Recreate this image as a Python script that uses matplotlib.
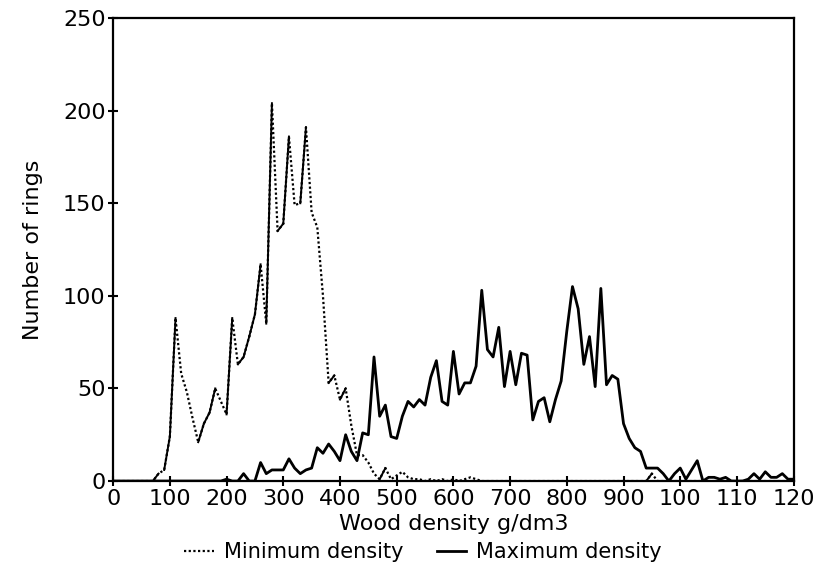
import numpy as np
import matplotlib
matplotlib.use("Agg")
import matplotlib.pyplot as plt

# density classes, g/dm3
density = np.arange(0, 1210, 10)

# number of rings per class, minimum density of each ring
min_rings = [0, 0, 0, 0, 0, 0, 0, 0, 4, 6,
             24, 88, 58, 48, 34, 21, 31, 37, 50, 43,
             36, 88, 63, 67, 78, 90, 117, 85, 204, 135,
             139, 186, 149, 150, 191, 145, 137, 100, 53, 57,
             44, 50, 30, 14, 14, 10, 4, 1, 7, 1,
             3, 5, 2, 1, 1, 0, 1, 0, 1, 0,
             1, 0, 1, 2, 1, 0, 0, 0, 0, 0,
             0, 0, 0, 0, 0, 0, 0, 0, 0, 0,
             0, 0, 0, 0, 0, 0, 0, 0, 0, 0,
             0, 0, 0, 0, 0, 4, 0, 0, 0, 0,
             0, 0, 0, 0, 0, 0, 0, 0, 0, 0,
             0, 0, 0, 0, 0, 0, 0, 0, 0, 0,
             0]

# number of rings per class, maximum density of each ring
max_rings = [0, 0, 0, 0, 0, 0, 0, 0, 0, 0,
             0, 0, 0, 0, 0, 0, 0, 0, 0, 0,
             1, 0, 0, 4, 0, 0, 10, 4, 6, 6,
             6, 12, 7, 4, 6, 7, 18, 15, 20, 16,
             11, 25, 16, 11, 26, 25, 67, 35, 41, 24,
             23, 35, 43, 40, 44, 41, 56, 65, 43, 41,
             70, 47, 53, 53, 62, 103, 71, 67, 83, 51,
             70, 52, 69, 68, 33, 43, 45, 32, 44, 54,
             81, 105, 93, 63, 78, 51, 104, 52, 57, 55,
             31, 23, 18, 16, 7, 7, 7, 4, 0, 4,
             7, 1, 6, 11, 0, 2, 2, 1, 2, 0,
             0, 0, 1, 4, 1, 5, 2, 2, 4, 1,
             1]

xticks = np.arange(0, 1300, 100)
xticklabels = ['0', '100', '200', '300', '400', '500', '600', '700',
               '800', '900', '100', '110', '120']
yticks = [0, 50, 100, 150, 200, 250]

plt.rcParams['font.family'] = ['DejaVu Sans']
plt.rcParams['font.size'] = 16

fig = plt.figure(figsize=(8.14, 5.72), dpi=100)
ax = fig.add_axes([0.139, 0.159, 0.836, 0.8095])

y_min = np.array(min_rings, dtype=float)
ax.plot(density, y_min, color='black', linestyle=(0, (1, 1.1)), linewidth=1.6)
# the old plotter drew the rising parts of the dotted curve almost solid
for i in range(len(density) - 1):
    if y_min[i + 1] > y_min[i] + 2:
        ax.plot(density[i:i + 2], y_min[i:i + 2], color='black', linewidth=1.4)
ax.plot([], [], color='black', linestyle=(0, (1, 1.1)), linewidth=1.6,
        label='Minimum density')
ax.plot(density, max_rings, color='black', linewidth=2.0, label='Maximum density')

ax.set_xlim(0, 1200)
ax.set_ylim(0, 250)
ax.set_xticks(xticks)
ax.set_xticklabels(xticklabels)
ax.set_yticks(yticks)
ax.tick_params(direction='inout', length=7, width=1.5, pad=2, labelsize=16)
for s in ax.spines.values():
    s.set_linewidth(1.6)

ax.set_xlabel('Wood density g/dm3', fontsize=16, labelpad=4)
ax.set_ylabel('Number of rings', fontsize=16, labelpad=14)

fig.legend(loc='lower center', bbox_to_anchor=(0.52, -0.016), ncol=2,
           frameon=False, fontsize=15, handlelength=1.4, columnspacing=1.6,
           handletextpad=0.5)

fig.savefig('out.png', dpi=100)
